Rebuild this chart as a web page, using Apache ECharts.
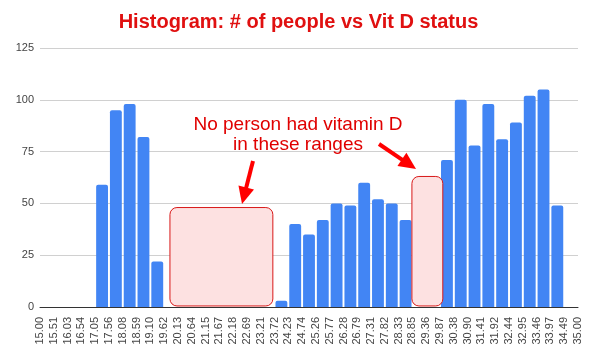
<!DOCTYPE html>
<html><head><meta charset="utf-8">
<script src="https://cdn.jsdelivr.net/npm/echarts@6/dist/echarts.min.js"></script>
<style>html,body{margin:0;padding:0;background:#fff}#c{width:597px;height:355px}</style>
</head><body><div id="c"></div>
<script>
const binEdges = ["15.00","15.51","16.03","16.54","17.05","17.56","18.08","18.59","19.10","19.62","20.13","20.64","21.15","21.67","22.18","22.69","23.21","23.72","24.23","24.74","25.26","25.77","26.28","26.79","27.31","27.82","28.33","28.85","29.36","29.87","30.38","30.90","31.41","31.92","32.44","32.95","33.46","33.97","34.49","35.00"];
const binCounts = [0,0,0,0,59,95,98,82,22,0,0,0,0,0,0,0,0,3,40,35,42,50,49,60,52,50,42,0,0,71,100,78,98,81,89,102,105,49,0];
const yTicks = [0,25,50,75,100,125];
const titleText = "Histogram: # of people vs Vit D status";
const noteLines = ["No person had vitamin D","in these ranges"];
// annotation boxes in [edge index, count] space
const boxes = [[[9.42,48],[16.88,0.5]],[[26.96,63],[29.2,0.5]]];

const binNames = binCounts.map((v,i)=>binEdges[i]+"-"+binEdges[i+1]);
const chart = echarts.init(document.getElementById('c'), null, {renderer:'canvas'});
const font = 'Liberation Sans, Arial, sans-serif';
chart.setOption({
  animation:false,
  title:{text:titleText,left:'center',top:7,textStyle:{color:'#e01010',fontSize:20,fontWeight:'bold',fontFamily:font}},
  grid:{left:40,right:19,top:48,bottom:48},
  xAxis:[
    {type:'category',data:binNames,boundaryGap:true,axisLabel:{show:false},axisTick:{show:false},axisLine:{show:true,lineStyle:{color:'#333',width:1}}},
    {type:'value',min:0,max:binEdges.length-1,interval:1,position:'bottom',
     axisLine:{show:false},axisTick:{show:false},splitLine:{show:false},
     axisLabel:{rotate:90,margin:10,fontSize:11,color:'#444',fontFamily:font,formatter:v=>binEdges[v]}}
  ],
  yAxis:{type:'value',min:yTicks[0],max:yTicks[yTicks.length-1],interval:25,
    axisLine:{show:false},axisTick:{show:false},
    axisLabel:{fontSize:11,color:'#444',fontFamily:font,margin:6},
    splitLine:{lineStyle:{color:'#d0d0d0'}}},
  series:[{type:'bar',data:binCounts,barWidth:'86%',itemStyle:{color:'#4285f4',borderRadius:[2,2,0,0]}}]
});

function px(p){return chart.convertToPixel({xAxisIndex:1,yAxisIndex:0},p);}
const g=[];
boxes.forEach(b=>{
  const a=px(b[0]), c=px(b[1]);
  g.push({type:'rect',shape:{x:a[0],y:a[1],width:c[0]-a[0],height:c[1]-a[1],r:7},
    style:{fill:'#fde1e1',stroke:'#d81818',lineWidth:1},z:10});
});
function arrow(x1,y1,x2,y2){
  const ang=Math.atan2(y2-y1,x2-x1), L=17, W=8;
  const bx=x2-L*Math.cos(ang), by=y2-L*Math.sin(ang);
  const nx=-Math.sin(ang), ny=Math.cos(ang);
  g.push({type:'line',shape:{x1:x1,y1:y1,x2:bx+1*Math.cos(ang),y2:by+1*Math.sin(ang)},style:{stroke:'#ff0000',lineWidth:4},z:11});
  g.push({type:'polygon',shape:{points:[[x2,y2],[bx+nx*W,by+ny*W],[bx-nx*W,by-ny*W]]},style:{fill:'#ff0000'},z:11});
}
arrow(253,161,242,204);
arrow(379,144,416,169);
g.push({type:'text',x:298,y:135,z:12,style:{text:noteLines.join('\n'),fill:'#e00000',font:'19px '+font,align:'center',verticalAlign:'middle',lineHeight:20}});
chart.setOption({graphic:g});
</script></body></html>
